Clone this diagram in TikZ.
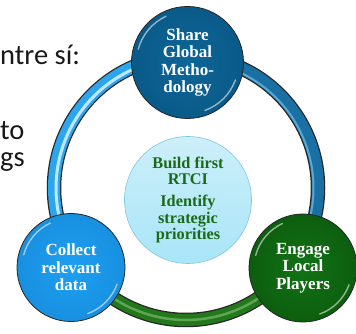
\documentclass[tikz,border=0pt]{standalone}
\usepackage{fontspec}
\newfontfamily\serifb{Liberation Serif}
\newfontfamily\calib{Carlito}
\definecolor{topblue}{HTML}{0C6698}
\definecolor{topblueout}{HTML}{0A5A88}
\definecolor{leftblue}{HTML}{1E9FF2}
\definecolor{leftblueout}{HTML}{1890E0}
\definecolor{rgreen}{HTML}{137216}
\definecolor{rgreenout}{HTML}{0C5E0E}
\definecolor{ctrtop}{HTML}{CDEFF9}
\definecolor{ctrbot}{HTML}{A9E5F8}
\definecolor{ctrline}{HTML}{80C6E2}
\definecolor{ringL}{HTML}{2BA6EE}
\definecolor{ringLh}{HTML}{BFE8FF}
\definecolor{ringR}{HTML}{1B70A3}
\definecolor{ringRh}{HTML}{58A8D6}
\definecolor{ringB}{HTML}{22781A}
\definecolor{ringBh}{HTML}{5EA656}
\definecolor{ctrtext}{HTML}{1A6A18}
\begin{document}
\begin{tikzpicture}[x=1pt,y=1pt,
  bubble/.style={circle, draw=black!85, line width=0.8pt, inner sep=0pt,
    align=center, text=white, shading=radial,
    font=\serifb\bfseries\fontsize{17}{17.4}\selectfont},
  ctrbubble/.style={circle, draw=ctrline, line width=0.6pt, inner sep=0pt,
    align=center, text=ctrtext, top color=ctrtop, bottom color=ctrbot,
    font=\serifb\bfseries\fontsize{16.3}{16.6}\selectfont},
  sidetext/.style={anchor=base west, inner sep=0pt, text=black!90,
    font=\calib\fontsize{28.5}{30}\selectfont},
  ringedge/.style={line width=14.5pt, draw=black!85},
  hl/.style={draw=white, opacity=0.55, line width=1.4pt, line cap=round}]
\useasboundingbox (0,0) rectangle (356,334);
\clip (0,0) rectangle (356,334);

% side text
\node[sidetext] (t1) at (0,269) {ntre sí:};
\node[sidetext] (t2) at (0,194) {to};
\node[sidetext] (t3) at (0,167) {gs};

% ring
\coordinate (ringc) at (186,146);
\draw[ringedge] ([shift={(90:132)}]ringc) arc[start angle=90,end angle=214,radius=132];
\draw[ringedge] ([shift={(90:132)}]ringc) arc[start angle=90,end angle=-34,radius=132];
\draw[ringedge] ([shift={(214:132)}]ringc) arc[start angle=214,end angle=326,radius=132];
\draw[line width=12pt, ringL] ([shift={(90:132)}]ringc) arc[start angle=90,end angle=214,radius=132];
\draw[line width=12pt, ringR] ([shift={(90:132)}]ringc) arc[start angle=90,end angle=-34,radius=132];
\draw[line width=12pt, ringB] ([shift={(214:132)}]ringc) arc[start angle=214,end angle=326,radius=132];
\draw[line width=3pt, ringLh] ([shift={(95:130)}]ringc) arc[start angle=95,end angle=210,radius=130];
\draw[line width=2pt, ringRh] ([shift={(85:127.5)}]ringc) arc[start angle=85,end angle=-30,radius=127.5];
\draw[line width=2.5pt, ringBh] ([shift={(218:132)}]ringc) arc[start angle=218,end angle=322,radius=132];

% centre
\node[ctrbubble, minimum size=127pt] (ctr) at (188,134)
  {Build first\\RTCI\\[5pt]Identify\\strategic\\priorities};

% bubbles
\node[bubble, minimum size=112pt, inner color=topblue, outer color=topblueout]
  (share) at (187.5,271.5) {Share\\Global\\Metho-\\dology};
\node[bubble, minimum size=108pt, inner color=leftblue, outer color=leftblueout]
  (collect) at (71,66.5) {Collect\\relevant\\data};
\node[bubble, minimum size=108pt, inner color=rgreen, outer color=rgreenout]
  (engage) at (303,66) {Engage\\Local\\Players};

% glossy highlights
\draw[hl] ([shift={(115:51)}]share.center) arc[start angle=115,end angle=165,radius=51];
\draw[hl] ([shift={(290:51)}]share.center) arc[start angle=290,end angle=340,radius=51];
\draw[hl] ([shift={(115:49)}]collect.center) arc[start angle=115,end angle=165,radius=49];
\draw[hl] ([shift={(290:49)}]collect.center) arc[start angle=290,end angle=340,radius=49];
\draw[hl] ([shift={(115:49)}]engage.center) arc[start angle=115,end angle=165,radius=49];
\draw[hl] ([shift={(290:49)}]engage.center) arc[start angle=290,end angle=340,radius=49];
\end{tikzpicture}
\end{document}
